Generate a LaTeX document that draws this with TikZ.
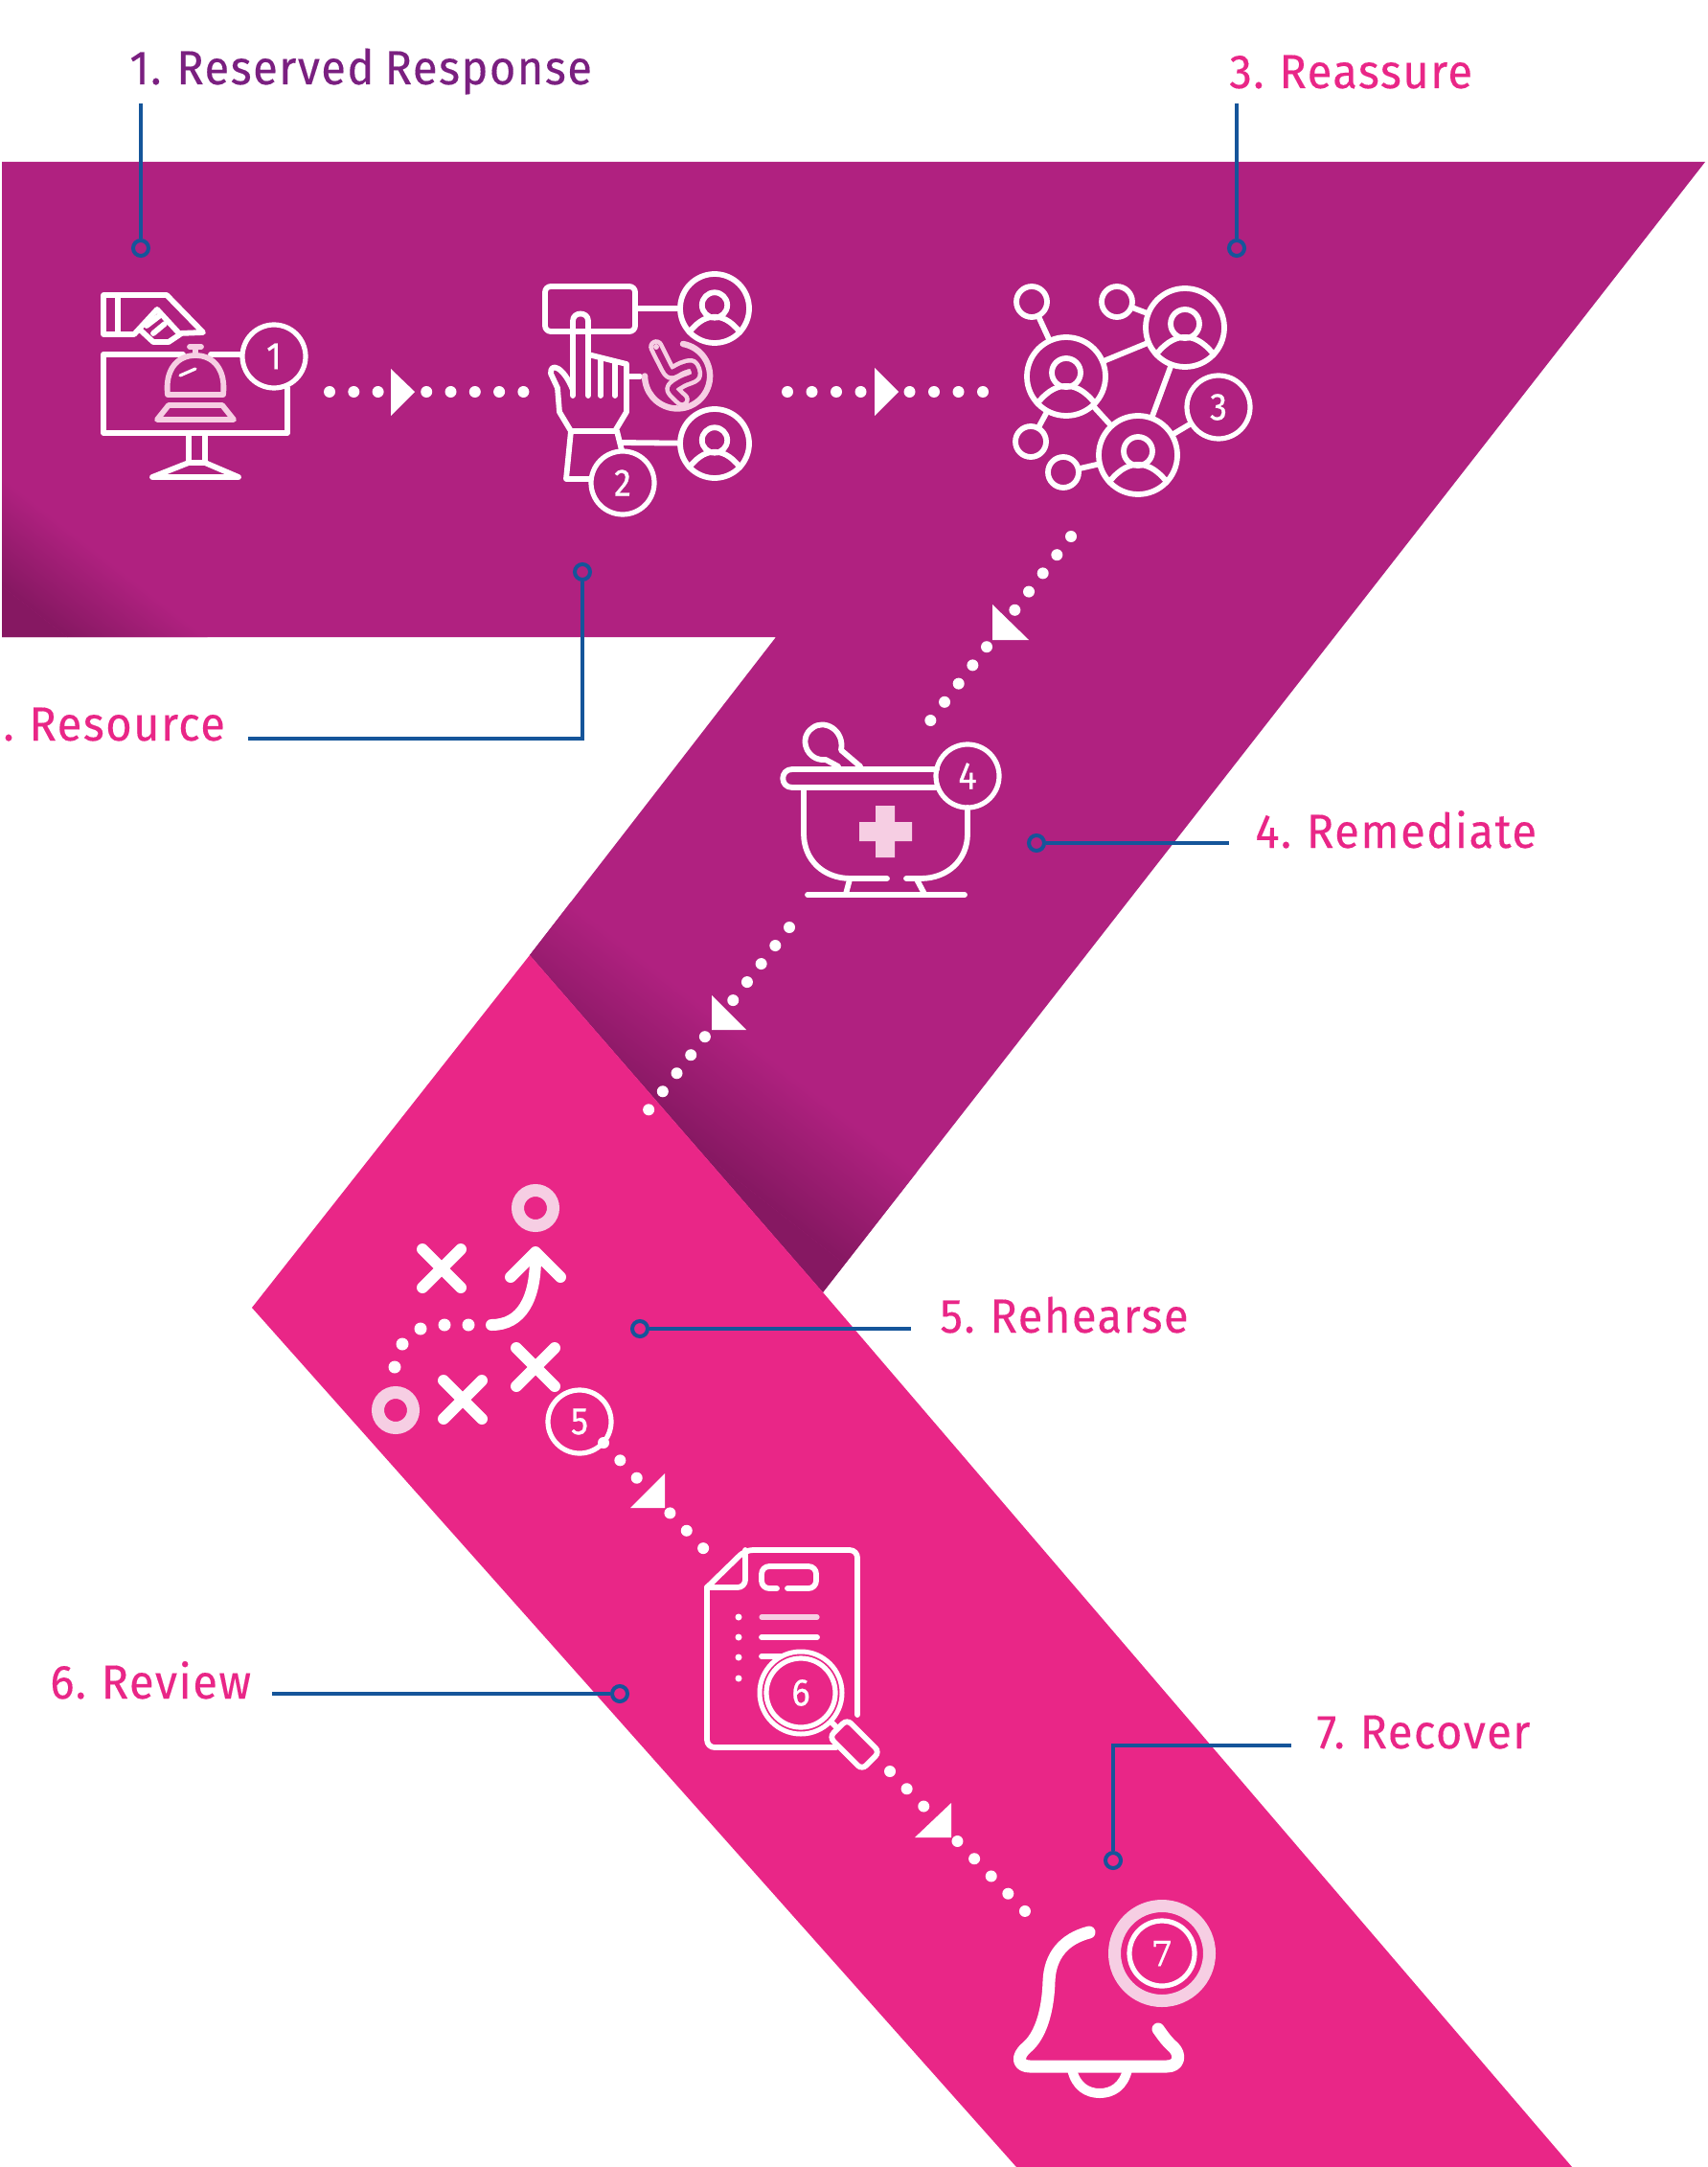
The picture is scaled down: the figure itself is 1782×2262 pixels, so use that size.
\documentclass[tikz,border=0pt]{standalone}
\usepackage{fontspec}
\setmainfont{Fira Sans}
\newfontfamily\dinfont{Fira Sans}[FakeStretch=0.94,LetterSpace=3,FakeBold=0.25,WordSpace=0.8]
\newfontfamily\numfont{Fira Sans}[FakeStretch=0.9,FakeBold=0.6]
\newfontfamily\slabfont{DejaVu Serif}[FakeBold=0.6]
\usepackage{xcolor}
\usetikzlibrary{arrows.meta,positioning,shapes.geometric}
\definecolor{bandpurple}{HTML}{B02180}
\definecolor{banddark}{HTML}{861862}
\definecolor{bandpink}{HTML}{E92687}
\definecolor{palepink}{HTML}{F6CEE3}
\definecolor{leaderblue}{HTML}{15559A}
\definecolor{titlepurple}{HTML}{7A1F80}
\newcommand{\ringdigit}[1]{\raisebox{-1.2pt}{#1}}
\tikzset{steplabel/.style={font=\dinfont\fontsize{25}{30}\selectfont,text=bandpink,anchor=base west,inner sep=0pt},
  terminal/.style={circle,draw=leaderblue,line width=2pt,minimum size=8pt,inner sep=0pt},
  leader/.style={draw=leaderblue,line width=1.9pt},
  numring/.style={circle,draw=white,line width=2.6pt,minimum size=33pt,inner sep=0pt,text=white,
    font=\numfont\fontsize{20}{22}\selectfont},
  userring/.style={circle,draw=white,line width=2.9pt,inner sep=0pt},
  smallring/.style={circle,draw=white,line width=2.9pt,inner sep=0pt,minimum size=16pt},
  iconline/.style={draw=white,line width=2.9pt,line cap=round,line join=round},
  paleline/.style={draw=palepink,line width=2.9pt,line cap=round,line join=round},
  boldline/.style={draw=white,line width=6pt,line cap=round,line join=round},
  dotflow/.style={draw=white,line width=6pt,line cap=round,dash pattern=on 0pt off #1pt},
  pathdot/.style={fill=white},
  flowtip/.style={fill=white},
  pics/usercore/.style={code={
    \draw[iconline] (0,-4) circle[radius=15];
    \draw[iconline] (-30,28) .. controls (-18,13) and (-8,10) .. (0,10) .. controls (8,10) and (18,13) .. (30,28);
  }}}
\begin{document}
\begin{tikzpicture}[x=.5pt,y=-.5pt]
\useasboundingbox (0,0) rectangle (1782,2262);
% bands
\begin{scope}
\clip (2,169) -- (1780,169) -- (859,1349) -- (553,997) -- (810,665) -- (2,665) -- cycle;
\fill[bandpurple] (0,160) rectangle (1782,1360);
\begin{scope}[transform canvas={rotate around={-38:(0,496)}}]
\shade[top color=bandpurple,bottom color=banddark] (-400,496) rectangle (320,586);
\fill[banddark] (-400,586) rectangle (320,900);
\end{scope}
\begin{scope}[transform canvas={rotate around={-38:(940,1210)}}]
\shade[top color=bandpurple,bottom color=banddark] (440,1210) rectangle (1240,1332);
\fill[banddark] (440,1332) rectangle (1240,1700);
\end{scope}
\end{scope}
\fill[bandpink] (553,997) -- (859,1349) -- (1641,2262) -- (1061,2262) -- (263,1365) -- cycle;
% labels
\node[steplabel,text=titlepurple] (lab1) at (135,88) {1. Reserved Response};
\node[steplabel] (lab2) at (3,773) {. Resource};
\node[steplabel] (lab3) at (1283,92) {3. Reassure};
\node[steplabel] (lab4) at (1310,885) {4. Remediate};
\node[steplabel] (lab5) at (981,1391) {5. Rehearse};
\node[steplabel] (lab6) at (52,1773) {6. Review};
\node[steplabel] (lab7) at (1374,1825) {7. Recover};
% leaders
\node[terminal] (term1) at (147,259) {};
\node[terminal] (term2) at (608,597) {};
\node[terminal] (term3) at (1291,259) {};
\node[terminal] (term4) at (1082,880) {};
\node[terminal] (term5) at (668,1387) {};
\node[terminal] (term6) at (647,1768) {};
\node[terminal] (term7) at (1162,1942) {};
\coordinate (end1) at (147,108);
\coordinate (end2) at (259,771);
\coordinate (end3) at (1291,108);
\coordinate (end4) at (1283,880);
\coordinate (end5) at (951,1387);
\coordinate (end6) at (284,1768);
\coordinate (end7) at (1348,1822);
\draw[leader] (end1) -- (term1);
\draw[leader] (term2) |- (end2);
\draw[leader] (end3) -- (term3);
\draw[leader] (term4) -- (end4);
\draw[leader] (term5) -- (end5);
\draw[leader] (term6) -- (end6);
\draw[leader] (term7) |- (end7);
% number rings
\node[numring] (num1) at (286,372) {\ringdigit{1}};
\node[numring] (num2) at (650,504) {\ringdigit{2}};
\node[numring] (num3) at (1272,425) {\ringdigit{3}};
\node[numring] (num4) at (1010,810) {\ringdigit{4}};
\node[numring] (num5) at (605,1484) {\ringdigit{5}};
\node[numring,minimum size=36pt] (num6) at (836,1767) {\ringdigit{6}};
\node[numring,minimum size=34pt,font=\slabfont\fontsize{18}{20}\selectfont] (num7) at (1213,2039) {7};
% dotted flow between the icons
\coordinate (flow1a) at (344,409);
\coordinate (flow1b) at (546.5,409);
\coordinate (flow2a) at (822,409);
\coordinate (flow2b) at (1026.5,409);
\coordinate (flow3a) at (1118,560);
\coordinate (flow3b) at (971,752.5);
\coordinate (flow4a) at (824,968);
\coordinate (flow4b) at (677,1158.5);
\coordinate (flow5a) at (630,1506);
\coordinate (flow5b) at (734.5,1616.5);
\coordinate (flow6a) at (929,1849);
\coordinate (flow6b) at (1070.5,1995.5);
\draw[dotflow=12.65] (flow1a) -- (flow1b);
\draw[dotflow=12.75] (flow2a) -- (flow2b);
\draw[dotflow=12.08] (flow3a) -- (flow3b);
\draw[dotflow=12.02] (flow4a) -- (flow4b);
\draw[dotflow=12.63] (flow5a) -- (flow5b);
\draw[dotflow=12.68] (flow6a) -- (flow6b);
\fill[flowtip] (408,385) -- (433,409) -- (408,434) -- cycle;
\fill[flowtip] (913,384) -- (938,409) -- (913,434) -- cycle;
\fill[flowtip] (1036,631) -- (1074,668) -- (1036,668) -- cycle;
\fill[flowtip] (743,1039) -- (779,1075) -- (743,1075) -- cycle;
\fill[flowtip] (694,1538) -- (658,1574) -- (694,1574) -- cycle;
\fill[flowtip] (993,1882) -- (955,1918) -- (993,1918) -- cycle;
% icon 1
\draw[iconline] (191,370) -- (108,370) -- (108,452) -- (300,452) -- (300,405);
\draw[iconline] (220,370) -- (252,370);
\draw[iconline] (197,452) -- (197,483) -- (159,498) -- (249,498) -- (214,483) -- (214,452);
\draw[iconline] (197,483) -- (214,483);
\draw[iconline] (140,349) -- (108,349) -- (108,308) -- (174,308) -- (212,347) -- (187,348) -- (164,323) -- cycle;
\draw[iconline] (123,308) -- (123,349);
\draw[iconline] (147,345) -- (160,357) -- (176,357) -- (188,349);
\draw[iconline] (153,340) -- (166,330) (172,338) -- (160,348);
\draw[paleline] (175,412) .. controls (172,386) and (185,371) .. (204,371) .. controls (223,371) and (236,386) .. (233,412) -- cycle;
\draw[paleline] (204,371) -- (204,362) (198,362) -- (210,362);
\draw[paleline] (176,423) -- (232,423) -- (244,438) -- (164,438) -- cycle;
\draw[draw=white,line width=1.6pt,line cap=round] (188,392) -- (204,385);
% icon 2
\draw[iconline,rounded corners=3pt] (569,299) rectangle (663,346);
\node[userring,minimum size=36pt] (userA) at (746,322) {};
\node[userring,minimum size=36pt] (userB) at (746,463) {};
\pic[scale=.88] at (userA) {usercore};
\pic[scale=.88] at (userB) {usercore};
\draw[iconline] (663,322) -- (userA);
\draw[iconline] (649,462) -- (userB);
\draw[iconline] (598,413) -- (598,335) .. controls (598,325) and (614,325) .. (614,335) -- (614,413);
\draw[iconline] (614,370) -- (654,380) -- (654,430) -- (642,450) -- (596,450) -- (584,430) -- (582,405) -- (575,390) .. controls (574,378) and (588,382) .. (598,407);
\draw[iconline] (627,375) -- (627,413) (642,378) -- (642,413);
\draw[iconline] (596,450) -- (591,500) -- (615,500);
\draw[iconline] (644,450) -- (649,470);
\draw[iconline] (656,393) -- (668,393);
\draw[paleline,line width=3.2pt] (713,359) arc[start angle=-80,end angle=180,radius=34];
\draw[draw=palepink,line width=2.3pt,line cap=round,line join=round,double=bandpurple,double distance=3.2pt] plot[smooth] coordinates {(685,362) (692,376) (700,389) (712,384) (722,382) (725,392) (712,398) (702,406) (712,417)};
\fill[palepink] (685,362) circle[radius=3];
% icon 3
\node[userring,minimum size=41pt] (hubA) at (1113,393) {};
\node[userring,minimum size=41pt] (hubB) at (1237,342) {};
\node[userring,minimum size=41pt] (hubC) at (1188,475) {};
\pic at (hubA) {usercore};
\pic at (hubB) {usercore};
\pic at (hubC) {usercore};
\node[smallring] (leafA) at (1077,315) {};
\node[smallring] (leafB) at (1166,315) {};
\node[smallring] (leafC) at (1076,461) {};
\node[smallring] (leafD) at (1110,493) {};
\draw[iconline] (leafA) -- (hubA);
\draw[iconline] (leafB) -- (hubB);
\draw[iconline] (leafC) -- (hubA);
\draw[iconline] (leafD) -- (hubC);
\draw[iconline] (hubA) -- (hubB);
\draw[iconline] (hubA) -- (hubC);
\draw[iconline] (hubB) -- (hubC);
\draw[iconline] (hubC) -- (num3);
% icon 4
\draw[iconline] (978,803) -- (827,803) .. controls (814,803) and (814,822) .. (827,822) -- (978,822);
\draw[iconline] (839,822) -- (839,870) .. controls (839,898) and (860,917) .. (888,917) -- (926,917);
\draw[iconline] (1010,843) -- (1010,870) .. controls (1010,898) and (989,917) .. (961,917) -- (946,917);
\draw[iconline] (843,934) -- (1007,934);
\draw[iconline] (887,918) -- (883,933) (957,918) -- (965,933);
\draw[iconline] (875,800) -- (862,793) .. controls (842,795) and (833,770) .. (848,760) .. controls (860,750) and (882,762) .. (878,783) -- (898,800);
\fill[palepink] (914,841) -- (934,841) -- (934,858) -- (952,858) -- (952,878) -- (934,878) -- (934,895) -- (914,895) -- (914,878) -- (897,878) -- (897,858) -- (914,858) -- cycle;
% icon 5
\draw[palepink,line width=6.5pt] (559,1261) circle[radius=18.5];
\draw[palepink,line width=6.5pt] (413,1472) circle[radius=18.5];
\draw[boldline] (441,1304) -- (481,1344) (441,1344) -- (481,1304);
\draw[boldline] (539,1407) -- (579,1447) (539,1447) -- (579,1407);
\draw[boldline] (463,1441) -- (503,1481) (463,1481) -- (503,1441);
\draw[boldline] (513,1383) .. controls (545,1383) and (559,1355) .. (559,1313);
\draw[boldline] (533,1333) -- (559,1307) -- (585,1333);
\fill[pathdot] (489,1383) circle[radius=6.5] (464,1383) circle[radius=6.5] (439,1387) circle[radius=6.5] (420,1403) circle[radius=6.5] (412,1427) circle[radius=6.5];
% icon 6
\draw[iconline,rounded corners=4pt] (738,1657) -- (738,1824) -- (873,1824);
\draw[iconline,rounded corners=4pt] (738,1657) -- (778,1618) -- (895,1618) -- (895,1790);
\draw[iconline,rounded corners=4pt] (738,1657) -- (778,1657) -- (778,1618);
\draw[iconline,rounded corners=4pt] (811,1658) -- (795,1658) -- (795,1635) -- (852,1635) -- (852,1658) -- (822,1658);
\draw[paleline,line width=2.6pt] (795,1688) -- (853,1688);
\draw[iconline] (795,1709) -- (853,1709);
\draw[iconline] (795,1729) -- (815,1729);
\fill[white] (771,1688) circle[radius=3.5] (771,1709) circle[radius=3.5] (771,1730) circle[radius=3.5] (771,1752) circle[radius=3.5];
\node[circle,draw=white,line width=2.5pt,minimum size=43pt,inner sep=0pt] (lens) at (836,1767) {};
\node[draw=white,line width=2.9pt,rounded corners=3pt,minimum width=24pt,minimum height=13pt,inner sep=0pt,rotate=-45] (grip) at (892,1821) {};
\draw[iconline] (lens) -- (grip);
% icon 7
\draw[palepink,line width=6.5pt] (1213,2039) circle[radius=49.5];
\draw[boldline,line width=6.5pt] (1137,2017) .. controls (1110,2024) and (1096,2042) .. (1095,2068) .. controls (1094,2100) and (1086,2125) .. (1072,2137) .. controls (1060,2147) and (1063,2157) .. (1075,2157) -- (1218,2157) .. controls (1231,2157) and (1233,2145) .. (1225,2137) .. controls (1218,2131) and (1214,2125) .. (1209,2118);
\draw[boldline,line width=5pt] (1119,2160) .. controls (1123,2178) and (1135,2185) .. (1148,2185) .. controls (1161,2185) and (1173,2178) .. (1177,2160);
\end{tikzpicture}
\end{document}
